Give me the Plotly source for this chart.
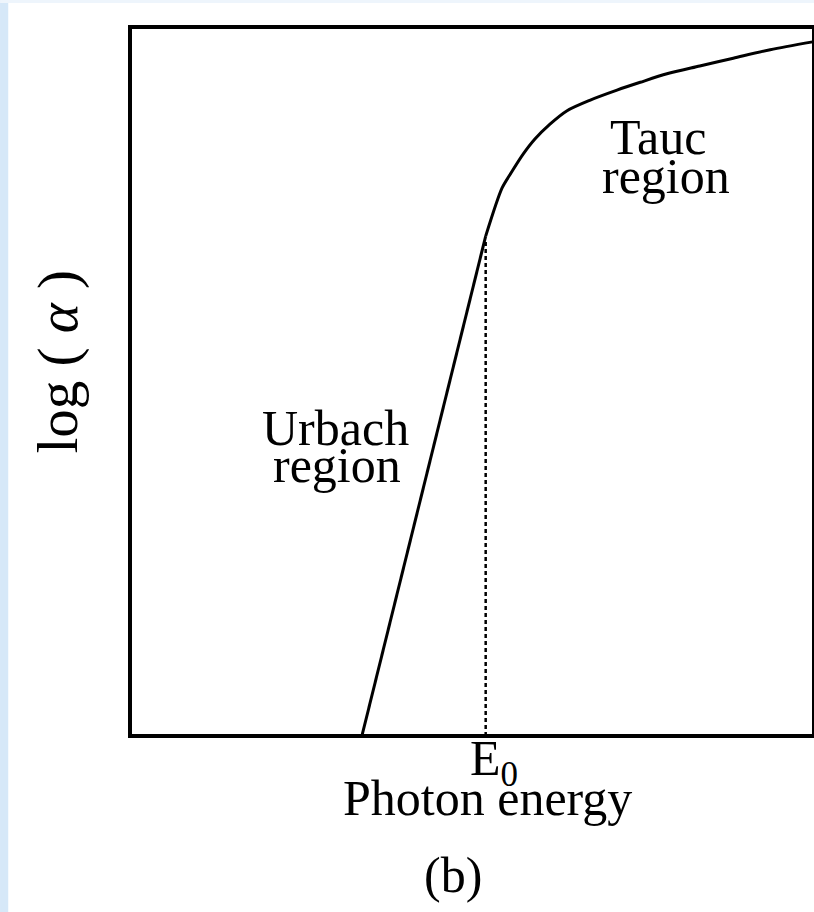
import plotly.graph_objects as go

# Curve (arbitrary units: photon energy 0..10, log(alpha) 0..10)
# Urbach region: straight exponential edge
urbach_energy = [3.39, 5.20]
urbach_log_alpha = [0.00, 7.05]
# Tauc region: bending curve
tauc_energy = [5.20, 5.44, 5.57, 5.75, 5.92, 6.14, 6.39, 6.73, 7.12, 7.46, 7.85, 8.33, 8.82, 9.36, 9.98]
tauc_log_alpha = [7.05, 7.73, 7.94, 8.21, 8.42, 8.63, 8.82, 8.97, 9.11, 9.22, 9.34, 9.45, 9.56, 9.68, 9.79]

# E0 marker
e0_x = [5.20, 5.20]
e0_y = [0.0, 7.0]

FONT = "Liberation Serif"
FS = 50

fig = go.Figure()
fig.add_trace(go.Scatter(x=urbach_energy, y=urbach_log_alpha, mode="lines",
                         line=dict(color="black", width=3), showlegend=False,
                         hoverinfo="skip"))
fig.add_trace(go.Scatter(x=tauc_energy, y=tauc_log_alpha, mode="lines",
                         line=dict(color="black", width=3, shape="spline", smoothing=0.8),
                         showlegend=False, hoverinfo="skip"))
fig.add_trace(go.Scatter(x=e0_x, y=e0_y, mode="lines",
                         line=dict(color="black", width=2.5, dash="4px,3px"),
                         showlegend=False, hoverinfo="skip"))

annotations = [
    dict(text="Tauc", x=7.72, y=8.45, xref="x", yref="y"),
    dict(text="region", x=7.84, y=7.90, xref="x", yref="y"),
    dict(text="Urbach", x=3.01, y=4.34, xref="x", yref="y"),
    dict(text="region", x=3.03, y=3.82, xref="x", yref="y"),
    dict(text="E<sub>0</sub>", x=0.532, y=-0.0367, xref="paper", yref="paper"),
    dict(text="Photon energy", x=0.523, y=-0.0874, xref="paper", yref="paper"),
    dict(text="(b)", x=0.472, y=-0.196, xref="paper", yref="paper"),
]
for a in annotations:
    a.update(showarrow=False, xanchor="center", yanchor="middle",
             font=dict(family=FONT, size=FS, color="black"))
annotations.append(dict(text="log ( <i>α</i> )", x=-0.105, y=0.527, xref="paper", yref="paper",
                        textangle=-90, showarrow=False, xanchor="center", yanchor="middle",
                        font=dict(family=FONT, size=57, color="black")))

shapes = [
    # light blue page strip on the left and top
    dict(type="rect", xref="paper", yref="paper", x0=-0.19, x1=-0.178, y0=-0.25, y1=1.04,
         fillcolor="#d6e8f8", line=dict(width=0), layer="below"),
    dict(type="rect", xref="paper", yref="paper", x0=-0.19, x1=1.0, y0=1.034, y1=1.04,
         fillcolor="#eef5fc", line=dict(width=0), layer="below"),
    # frame
    dict(type="rect", xref="paper", yref="paper", x0=0, x1=1, y0=0, y1=1,
         line=dict(color="black", width=4), fillcolor="rgba(0,0,0,0)", layer="above"),
]

fig.update_layout(
    width=814, height=912,
    margin=dict(l=130, r=0, t=27, b=176, pad=0),
    paper_bgcolor="white", plot_bgcolor="white",
    xaxis=dict(range=[0, 10], showgrid=False, zeroline=False, showticklabels=False,
               ticks="", showline=False, fixedrange=True),
    yaxis=dict(range=[0, 10], showgrid=False, zeroline=False, showticklabels=False,
               ticks="", showline=False, fixedrange=True),
    annotations=annotations,
    shapes=shapes,
)

fig.write_html("out.html")
